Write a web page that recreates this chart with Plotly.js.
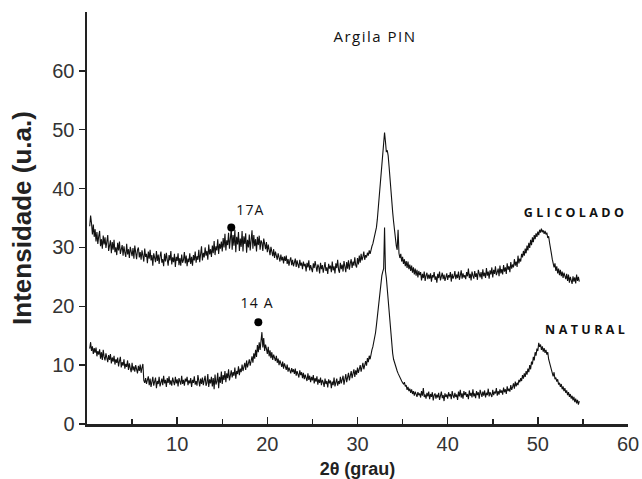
<!DOCTYPE html>
<html>
<head>
<meta charset="utf-8">
<script src="https://cdn.plot.ly/plotly-3.0.1.min.js"></script>
<style>
  html, body { margin: 0; padding: 0; background: #fff; }
  #chart { width: 642px; height: 479px; }
  g.annotation[data-index="0"] text { letter-spacing: 1.5px; }
  g.annotation[data-index="1"] text, g.annotation[data-index="2"] text { letter-spacing: 1.2px; }
  g.annotation[data-index="3"] text, g.annotation[data-index="4"] text { letter-spacing: 3.4px; }
</style>
</head>
<body>
<div id="chart"></div>
<script>
// 2-theta sampling grid of the diffractograms (degrees)
const angleStart = 0.3;
const angleStep = 0.1;

// GLICOLADO (upper trace): first row 0.3-0.9, then one row per degree
const glicolado = [
  33.6, 35.4, 34.1, 32.2, 33.9, 31.8, 33.1,
  31.0, 32.6, 30.6, 31.9, 32.8, 30.2, 31.4, 29.8, 32.0, 30.5,
  31.7, 29.9, 30.8, 32.1, 29.4, 30.6, 31.2, 29.0, 30.9, 29.6,
  31.3, 29.2, 30.0, 28.7, 30.8, 29.5, 31.0, 28.9, 29.8, 30.4,
  28.6, 30.2, 29.1, 28.4, 30.6, 28.8, 29.7, 28.2, 30.1, 29.0,
  28.5, 29.9, 28.1, 30.3, 29.4, 28.0, 29.6, 30.0, 28.3, 29.2,
  27.9, 29.5, 28.6, 27.6, 29.8, 28.4, 28.9, 27.3, 29.3, 28.1,
  29.6, 27.8, 28.7, 26.9, 29.0, 28.2, 27.5, 29.4, 27.7, 28.8,
  27.2, 28.5, 29.3, 27.4, 28.0, 26.8, 28.9, 27.6, 29.1, 27.9,
  26.9, 28.7, 27.8, 29.4, 27.1, 28.3, 27.5, 28.9, 26.7, 28.4,
  27.7, 29.0, 27.0, 28.2, 26.9, 28.8, 27.4, 27.9, 29.2, 27.3,
  28.6, 26.8, 28.1, 27.5, 29.0, 27.2, 28.4, 26.9, 28.7, 27.8,
  29.3, 27.4, 28.5, 27.9, 29.6, 27.5, 28.9, 30.2, 27.8, 29.1,
  28.3, 30.0, 28.6, 29.4, 27.9, 30.5, 28.8, 29.7, 28.4, 30.3,
  29.0, 31.1, 28.7, 30.2, 29.5, 31.4, 28.9, 30.6, 29.8, 31.0,
  29.3, 31.6, 30.0, 32.3, 29.5, 31.2, 30.4, 32.5, 29.8, 31.7,
  33.2, 29.6, 32.1, 30.3, 33.0, 29.2, 31.8, 30.5, 32.6, 29.4,
  31.5, 30.1, 32.8, 29.3, 31.9, 30.6, 32.4, 29.1, 31.3, 30.0,
  32.2, 29.5, 31.6, 32.9, 29.8, 32.1, 30.2, 31.4, 29.3, 31.8,
  30.4, 32.0, 29.6, 31.2, 30.8, 29.4, 31.5, 30.1, 29.7, 30.9,
  29.2, 30.5, 29.8, 28.7, 30.1, 29.0, 28.5, 29.7, 28.2, 29.3,
  28.6, 27.9, 29.0, 28.1, 27.6, 28.8, 27.8, 28.4, 27.3, 28.5,
  27.7, 28.6, 27.2, 28.0, 26.9, 27.8, 28.3, 27.0, 27.9, 26.8,
  27.5, 28.1, 26.7, 27.8, 27.1, 26.5, 27.9, 26.9, 27.4, 26.3,
  27.6, 26.8, 27.2, 25.9, 27.4, 26.6, 27.8, 26.1, 27.0, 26.4,
  25.8, 27.3, 26.5, 27.7, 26.2, 25.9, 27.1, 26.7, 25.6, 27.4,
  26.3, 27.0, 25.7, 26.8, 27.5, 26.0, 26.6, 25.5, 27.2, 26.4,
  26.9, 25.8, 27.6, 26.1, 26.8, 25.6, 27.3, 26.5, 27.9, 26.2,
  25.7, 27.4, 26.3, 27.1, 25.9, 27.7, 26.6, 25.8, 27.5, 26.4,
  27.8, 26.2, 27.3, 28.0, 26.5, 27.6, 26.9, 28.3, 27.0, 26.6,
  28.2, 27.1, 28.6, 27.4, 28.9, 27.8, 28.4, 29.3, 27.9, 28.7,
  28.3, 29.1, 28.6, 29.5, 28.9, 29.8, 30.2, 30.6, 31.2, 31.8,
  32.4, 33.4, 34.8, 36.5, 38.4, 40.4, 42.0, 43.4, 45.4, 47.6,
  49.5, 48.0, 46.2, 46.5, 45.6, 43.8, 41.5, 39.6, 37.8, 36.0,
  34.4, 32.8, 31.2, 30.3, 29.6, 33.0, 29.0, 28.2, 28.9, 27.6,
  28.4, 27.2, 28.0, 26.8, 27.7, 26.5, 27.6, 26.3, 27.1, 26.0,
  26.9, 25.7, 26.6, 25.4, 26.4, 25.2, 26.2, 24.9, 26.0, 25.3,
  25.8, 24.4, 25.5, 24.8, 25.9, 24.3, 25.2, 25.7, 24.6, 25.4,
  24.7, 25.6, 24.2, 25.3, 24.9, 25.8, 24.5, 25.1, 24.0, 25.5,
  24.8, 25.9, 24.4, 25.2, 25.7, 24.6, 25.4, 24.3, 25.0, 25.6,
  24.5, 25.3, 24.9, 25.8, 24.2, 25.5, 24.7, 25.1, 26.0, 24.6,
  25.4, 24.8, 25.9, 24.5, 25.2, 26.1, 24.7, 25.6, 24.9, 25.3,
  24.6, 25.8, 25.1, 26.4, 24.8, 25.5, 24.4, 25.9, 25.2, 24.7,
  26.0, 25.0, 25.6, 24.5, 26.2, 25.3, 24.9, 25.8, 24.6, 26.3,
  25.1, 25.7, 24.8, 26.5, 25.2, 25.9, 24.7, 26.1, 25.4, 26.6,
  24.9, 26.2, 25.5, 26.8, 25.3, 25.8, 26.4, 25.1, 26.9, 25.6,
  26.3, 25.4, 27.0, 25.9, 26.6, 25.5, 27.3, 26.2, 26.8, 25.8,
  27.5, 26.4, 27.1, 26.6, 28.0, 26.9, 27.6, 26.7, 28.6, 27.3,
  28.1, 27.6, 28.9, 28.3, 29.4, 28.6, 29.8, 29.0, 30.3, 29.5,
  30.8, 29.9, 31.3, 30.4, 31.7, 30.9, 32.1, 31.4, 32.4, 31.8,
  32.7, 32.1, 33.0, 32.5, 33.2, 32.6, 32.9, 32.3, 32.8, 32.2,
  32.5, 31.6, 31.9, 30.8, 30.1, 29.0, 28.0, 27.2, 26.6, 27.3,
  26.0, 26.8, 25.6, 26.4, 25.3, 26.2, 25.1, 25.9, 24.8, 25.7,
  25.2, 24.6, 25.5, 24.3, 25.4, 24.0, 25.0, 24.5, 23.8, 25.1,
  24.2, 24.9, 23.9, 25.4, 24.3, 25.0, 24.2
];

// NATURAL (lower trace): same grid
const natural = [
  12.8, 13.9, 12.4, 13.2, 11.9, 12.9, 12.1,
  13.0, 11.5, 12.4, 11.8, 12.7, 11.1, 12.2, 10.9, 12.6, 11.4,
  10.8, 12.0, 11.2, 10.5, 11.7, 10.9, 11.9, 10.3, 11.3, 10.6,
  11.6, 10.1, 11.0, 10.4, 11.3, 9.8, 10.7, 11.4, 9.6, 10.5,
  9.9, 11.0, 9.4, 10.2, 9.7, 10.8, 9.2, 10.3, 9.5, 8.8,
  10.4, 9.1, 9.8, 8.9, 10.0, 9.3, 8.6, 9.9, 9.0, 10.1,
  8.7, 9.6, 10.2, 7.4, 7.0, 7.8, 6.8, 7.5, 8.1, 6.6,
  7.7, 6.3, 7.4, 8.0, 6.5, 7.2, 7.9, 6.1, 7.3, 6.8,
  8.0, 6.4, 7.1, 7.7, 6.6, 8.2, 6.9, 7.5, 6.3, 7.8,
  7.0, 8.1, 6.7, 7.4, 6.5, 7.9, 7.2, 6.6, 8.0, 6.9,
  7.6, 6.4, 7.8, 7.1, 6.7, 8.2, 6.8, 7.5, 6.5, 7.7,
  7.2, 8.0, 6.6, 7.4, 6.9, 7.8, 6.3, 7.5, 7.0, 8.1,
  6.7, 7.3, 6.5, 8.3, 7.0, 6.4, 7.7, 6.8, 7.9, 6.6,
  7.4, 8.2, 6.5, 7.0, 8.5, 6.3, 7.6, 6.9, 8.0, 6.4,
  7.8, 5.9, 8.4, 6.7, 7.2, 8.7, 6.1, 8.0, 7.0, 8.9,
  6.8, 8.3, 7.5, 9.0, 7.1, 8.6, 7.8, 9.3, 7.4, 8.5,
  9.1, 7.9, 8.8, 8.2, 9.6, 7.7, 9.0, 8.5, 9.8, 8.3,
  9.4, 8.8, 10.1, 9.0, 9.7, 10.4, 9.2, 10.8, 9.6, 10.3,
  11.0, 9.9, 10.6, 11.5, 10.4, 12.0, 11.1, 12.6, 11.4, 13.4,
  12.2, 13.9, 12.6, 14.4, 15.6, 13.0, 14.6, 12.4, 13.5, 12.8,
  11.9, 13.1, 11.5, 12.5, 11.2, 12.2, 10.9, 11.8, 11.3, 10.7,
  11.6, 10.4, 11.1, 10.0, 10.8, 10.2, 9.7, 10.6, 9.4, 10.3,
  9.8, 9.2, 10.1, 8.9, 9.6, 9.0, 8.6, 9.5, 8.8, 9.3,
  8.5, 9.4, 8.2, 9.0, 8.6, 7.9, 9.1, 8.3, 8.8, 7.8,
  8.7, 7.6, 8.4, 8.0, 7.3, 8.6, 7.5, 8.2, 7.1, 8.0,
  7.4, 8.3, 6.9, 7.8, 7.2, 8.1, 6.7, 7.6, 7.0, 7.9,
  6.6, 7.5, 7.1, 6.3, 7.7, 6.8, 7.3, 6.2, 7.6, 6.9,
  7.4, 6.1, 7.2, 6.6, 7.9, 6.4, 7.0, 7.7, 6.5, 7.3,
  6.8, 8.0, 6.9, 7.5, 8.2, 6.7, 7.8, 8.5, 7.1, 7.9,
  8.7, 7.4, 8.3, 9.0, 7.8, 8.6, 9.3, 8.0, 9.1, 8.4,
  9.6, 8.7, 9.2, 10.0, 8.9, 9.8, 10.4, 9.3, 10.1, 10.7,
  9.9, 11.2, 10.5, 11.6, 11.0, 12.1, 12.6, 13.1, 13.8, 14.6,
  15.5, 16.8, 18.2, 19.8, 21.5, 23.0, 24.3, 25.2, 25.9, 26.4,
  33.4, 26.0, 24.8, 23.0, 21.0, 19.0, 16.8, 14.6, 13.0, 12.0,
  11.0, 10.4, 9.8, 9.3, 9.0, 8.6, 8.2, 7.9, 7.5, 7.3,
  7.0, 6.8, 7.1, 6.4, 6.6, 5.8, 6.3, 5.6, 6.0, 5.3,
  5.9, 5.1, 5.6, 4.8, 5.5, 5.0, 4.6, 5.4, 4.9, 5.2,
  4.5, 5.6, 4.8, 6.1, 4.6, 5.0, 4.3, 5.3, 4.7, 5.5,
  4.2, 5.1, 4.6, 5.4, 4.0, 4.9, 5.2, 4.3, 5.0, 4.5,
  5.3, 4.1, 4.8, 5.5, 4.4, 4.9, 3.9, 5.2, 4.6, 5.0,
  4.3, 5.4, 4.7, 5.1, 4.2, 5.6, 4.8, 4.4, 5.3, 4.6,
  5.0, 4.1, 5.5, 4.7, 5.8, 4.5, 5.2, 4.3, 5.6, 4.9,
  5.4, 4.6, 5.1, 4.2, 5.7, 4.8, 5.3, 4.5, 5.9, 4.7,
  5.2, 4.4, 5.6, 4.9, 5.4, 4.3, 5.8, 5.0, 4.6, 5.5,
  4.8, 5.7, 4.5, 5.3, 4.9, 6.0, 4.7, 5.4, 5.1, 4.6,
  5.8, 4.9, 5.5, 5.2, 6.1, 4.8, 5.6, 5.0, 5.9, 5.3,
  5.7, 5.0, 6.2, 5.4, 5.9, 5.1, 6.4, 5.6, 6.0, 5.5,
  6.6, 5.8, 6.3, 6.9, 6.0, 7.2, 6.4, 7.0, 6.6, 7.5,
  7.1, 7.8, 7.3, 8.3, 7.7, 8.6, 8.0, 9.0, 8.4, 9.4,
  8.8, 10.0, 9.3, 10.6, 10.1, 11.4, 10.8, 12.2, 11.6, 12.8,
  12.4, 13.8, 13.1, 13.5, 12.6, 13.2, 12.3, 12.9, 12.1, 12.6,
  11.8, 12.2, 11.0, 10.4, 9.8, 9.0, 8.6, 8.1, 8.8, 7.6,
  7.9, 7.2, 7.6, 6.7, 7.0, 6.3, 6.8, 5.9, 6.4, 5.6,
  6.1, 5.3, 5.7, 4.9, 5.4, 4.6, 5.1, 4.3, 4.8, 4.0,
  4.6, 3.7, 4.3, 3.5, 4.1, 3.3, 3.9
];

// Marked basal reflections
const peakLabels = ["17A", "14 A"];
const peakMarkerX = [16.0, 19.0];
const peakMarkerY = [33.4, 17.3];

const seriesNames = ["GLICOLADO", "NATURAL"];
const chartTitle = "Argila PIN";
const xTitle = "2θ (grau)";
const yTitle = "Intensidade (u.a.)";
const yTickVals = [0, 10, 20, 30, 40, 50, 60];
const xTickVals = [10, 20, 30, 40, 50, 60];

const gridFor = arr => arr.map((_, i) => +(angleStart + i * angleStep).toFixed(2));

const lineStyle = { color: '#111', width: 1.1 };

const traces = [
  { x: gridFor(glicolado), y: glicolado, type: 'scatter', mode: 'lines', line: lineStyle, name: seriesNames[0], hoverinfo: 'skip' },
  { x: gridFor(natural), y: natural, type: 'scatter', mode: 'lines', line: lineStyle, name: seriesNames[1], hoverinfo: 'skip' },
  { x: peakMarkerX, y: peakMarkerY, type: 'scatter', mode: 'markers', marker: { color: '#000', size: 8 }, hoverinfo: 'skip' }
];

const axisFont = 'Liberation Sans';
const labelFont = { family: 'Open Sans', size: 14, color: '#111' };
const boldLabelFont = { family: 'Open Sans', size: 12.5, color: '#111' };

const layout = {
  width: 642, height: 479,
  margin: { l: 87, r: 14, t: 12, b: 55 },
  paper_bgcolor: '#fff', plot_bgcolor: '#fff',
  showlegend: false,
  font: { family: axisFont },
  xaxis: {
    range: [0, 60],
    tickvals: xTickVals,
    ticks: 'inside', ticklen: 7, tickwidth: 1.5, tickcolor: '#222',
    minor: { dtick: 5, ticks: 'inside', ticklen: 5, tickwidth: 1.5, tickcolor: '#222' },
    showline: true, linecolor: '#222', linewidth: 2.5,
    showgrid: false, zeroline: false,
    tickfont: { family: axisFont, size: 20, color: '#333' },
    title: { text: '<b>' + xTitle + '</b>', font: { family: axisFont, size: 18, color: '#222' }, standoff: 10 }
  },
  yaxis: {
    range: [0, 70],
    tickvals: yTickVals,
    ticks: 'outside', ticklen: 6, tickwidth: 1.5, tickcolor: '#222',
    showline: true, linecolor: '#222', linewidth: 2.5,
    showgrid: false, zeroline: false,
    tickfont: { family: axisFont, size: 20, color: '#333' },
    title: { text: '<b>' + yTitle + '</b>', font: { family: axisFont, size: 26, color: '#222' }, standoff: 13 }
  },
  annotations: [
    { x: 31.9, y: 66.0, xref: 'x', yref: 'y', text: chartTitle, showarrow: false, font: { family: 'Open Sans', size: 15, color: '#111' } },
    { x: 18.1, y: 36.4, xref: 'x', yref: 'y', text: peakLabels[0], showarrow: false, font: labelFont },
    { x: 18.9, y: 20.6, xref: 'x', yref: 'y', text: peakLabels[1], showarrow: false, font: labelFont },
    { x: 54.2, y: 36.0, xref: 'x', yref: 'y', text: '<b>' + seriesNames[0] + '</b>', showarrow: false, font: boldLabelFont },
    { x: 55.4, y: 16.1, xref: 'x', yref: 'y', text: '<b>' + seriesNames[1] + '</b>', showarrow: false, font: boldLabelFont }
  ]
};

Plotly.newPlot('chart', traces, layout, { displayModeBar: false, staticPlot: true });
</script>
</body>
</html>
